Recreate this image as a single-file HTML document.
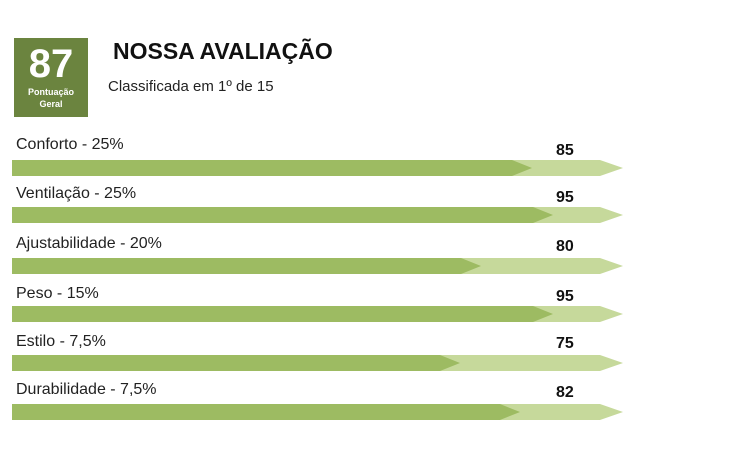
<!DOCTYPE html>
<html><head><meta charset="utf-8"><style>
body{margin:0;width:750px;height:450px;background:#fff;font-family:"Liberation Sans",sans-serif;position:relative;overflow:hidden}
.box{position:absolute;left:14px;top:38px;width:74px;height:79px;background:#6b843f;color:#fff;text-align:center}
.box .n{font-size:40px;font-weight:bold;line-height:44px;margin-top:4px}
.box .s{font-size:9px;font-weight:bold;line-height:12px}
.t{position:absolute;left:113px;top:38px;font-size:23px;font-weight:bold;color:#111}
.c{position:absolute;left:108px;top:78px;font-size:15px;color:#222}
.l{position:absolute;left:16px;font-size:16px;color:#222}
.v{position:absolute;left:556px;font-size:16px;font-weight:bold;color:#111}
svg{position:absolute;left:0;top:0}
</style></head><body>
<div class="box"><div class="n">87</div><div class="s">Pontuação<br>Geral</div></div>
<div class="t">NOSSA AVALIAÇÃO</div>
<div class="c">Classificada em 1º de 15</div>
<div class="l" style="top:136px">Conforto - 25%</div><div class="v" style="top:142px">85</div>
<div class="l" style="top:185px">Ventilação - 25%</div><div class="v" style="top:189px">95</div>
<div class="l" style="top:235px">Ajustabilidade - 20%</div><div class="v" style="top:238px">80</div>
<div class="l" style="top:285px">Peso - 15%</div><div class="v" style="top:288px">95</div>
<div class="l" style="top:333px">Estilo - 7,5%</div><div class="v" style="top:335px">75</div>
<div class="l" style="top:381px">Durabilidade - 7,5%</div><div class="v" style="top:384px">82</div>
<svg width="750" height="450">
<g fill="#c6d99b">
<polygon points="12,160 600,160 623,168 600,176 12,176"/>
<polygon points="12,207 600,207 623,215 600,223 12,223"/>
<polygon points="12,258 600,258 623,266 600,274 12,274"/>
<polygon points="12,306 600,306 623,314 600,322 12,322"/>
<polygon points="12,355 600,355 623,363 600,371 12,371"/>
<polygon points="12,404 600,404 623,412 600,420 12,420"/>
</g>
<g fill="#9dbb62">
<polygon points="12,160 512,160 532,168 512,176 12,176"/>
<polygon points="12,207 533,207 553,215 533,223 12,223"/>
<polygon points="12,258 461,258 481,266 461,274 12,274"/>
<polygon points="12,306 533,306 553,314 533,322 12,322"/>
<polygon points="12,355 440,355 460,363 440,371 12,371"/>
<polygon points="12,404 500,404 520,412 500,420 12,420"/>
</g>
</svg>
</body></html>
